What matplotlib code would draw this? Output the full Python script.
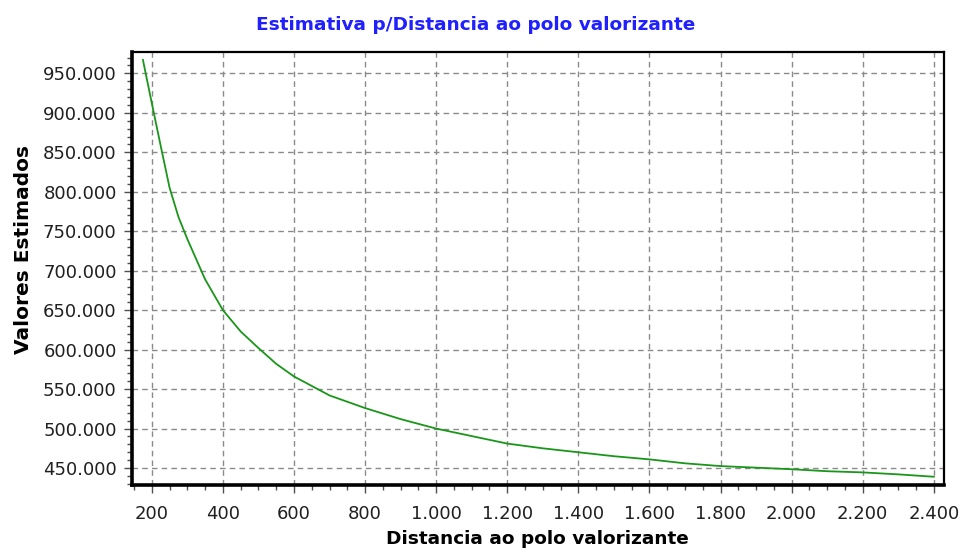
import matplotlib
matplotlib.use("Agg")
import matplotlib.pyplot as plt
import matplotlib.ticker as ticker

distancia = [175, 200, 225, 250, 275, 300, 350, 400, 450, 500, 550, 600, 700, 800,
             900, 1000, 1100, 1200, 1300, 1400, 1500, 1600, 1700, 1800, 1900, 2000,
             2100, 2200, 2300, 2400]
valores = [967000, 912000, 858000, 805000, 768000, 740000, 689000, 650000, 623000,
           602000, 582000, 566000, 542000, 526000, 512000, 500000, 490500, 481000,
           475000, 470000, 465000, 461000, 456000, 452500, 450500, 448500, 446000,
           444500, 442000, 439000]

X_TICKS = list(range(200, 2401, 200))
Y_TICKS = list(range(450000, 950001, 50000))

TITLE = "Estimativa p/Distancia ao polo valorizante"
XLABEL = "Distancia ao polo valorizante"
YLABEL = "Valores Estimados"


def br_fmt(v, _):
    return f"{v:,.0f}".replace(",", ".")


fig = plt.figure(figsize=(9.63, 5.54), dpi=100)
ax = fig.add_axes([0.137, 0.1245, 0.843, 0.7815])

ax.plot(distancia, valores, color="#1a961a", lw=1.3, zorder=3)

ax.set_xlim(144, 2428)
ax.set_ylim(428500, 977000)
ax.set_xticks(X_TICKS)
ax.set_yticks(Y_TICKS)
ax.xaxis.set_minor_locator(ticker.MultipleLocator(50))
ax.yaxis.set_minor_locator(ticker.MultipleLocator(10000))
ax.xaxis.set_major_formatter(ticker.FuncFormatter(br_fmt))
ax.yaxis.set_major_formatter(ticker.FuncFormatter(br_fmt))

ax.grid(True, which="major", color="#8a8a8a", ls=(0, (4, 3)), lw=1.0, zorder=1)

for side in ["left", "bottom"]:
    ax.spines[side].set_linewidth(2.6)
for side in ["top", "right"]:
    ax.spines[side].set_linewidth(1.6)

ax.tick_params(which="major", direction="out", length=6, width=1, color="#505050",
               labelsize=13, labelcolor="#202020")
ax.tick_params(which="minor", direction="out", length=3.5, width=1, color="#505050")
ax.tick_params(axis="x", which="major", pad=8.5)
ax.tick_params(axis="y", which="major", pad=5)

# title in the reference is centred on the figure, not on the axes
fig.text(0.494, 0.955, TITLE, color="#2020ff", fontsize=13.3, fontweight="bold",
         ha="center", va="center")
ax.set_xlabel(XLABEL, fontsize=13.3, fontweight="bold", labelpad=5)
ax.set_ylabel(YLABEL, fontsize=14.5, fontweight="bold")
ax.yaxis.set_label_coords(-0.122, 0.545)

fig.savefig("out.png", dpi=100)
